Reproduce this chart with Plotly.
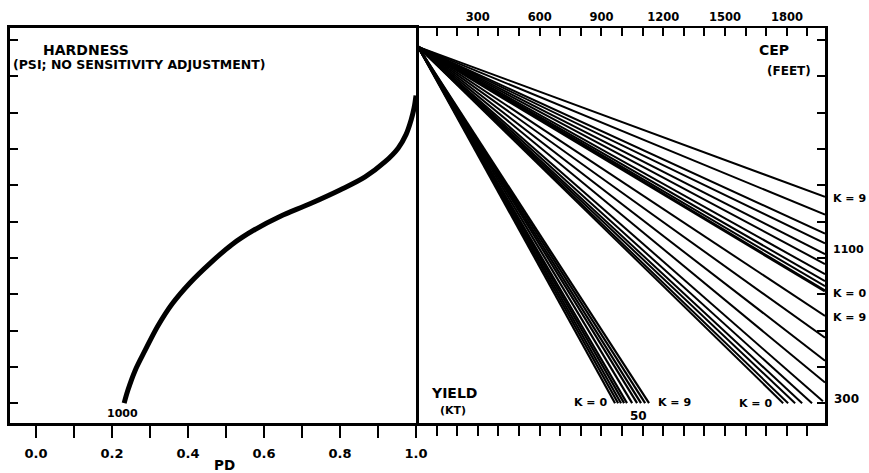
import plotly.graph_objects as go

# ---------------- data ----------------
# Left panel: hardness curve (PD vs hardness level, tick units)
pd_values = [0.232, 0.242, 0.261, 0.287, 0.321, 0.358, 0.405, 0.458, 0.516, 0.576,
             0.642, 0.721, 0.800, 0.866, 0.918, 0.953, 0.974, 0.987, 0.995, 1.000]
hardness_level = [0.00, 0.36, 0.90, 1.45, 2.13, 2.73, 3.31, 3.85, 4.37, 4.78,
                  5.14, 5.49, 5.87, 6.23, 6.64, 7.02, 7.40, 7.79, 8.13, 8.47]

# Right panel: nomogram lines from a common pivot
pivot_cep = 10
pivot_level = 9.81
k_values = [0, 1, 2, 3, 4, 5, 6, 7, 8, 9]

yield50_end_cep = [966, 981, 995, 1010, 1024, 1049, 1073, 1092, 1112, 1131]
yield50_end_level = [0, 0, 0, 0, 0, 0, 0, 0, 0, 0]

cep1100_end_cep = [1985, 1985, 1985, 1985, 1985, 1985, 1985, 1985, 1985, 1985]
cep1100_end_level = [3.09, 3.22, 3.36, 3.55, 3.83, 4.10, 4.40, 4.67, 5.19, 5.68]

cep300_end_cep = [1782, 1806, 1840, 1874, 1922, 1975, 1985, 1985, 1985, 1985]
cep300_end_level = [0, 0, 0, 0, 0, 0.05, 0.57, 1.17, 1.80, 2.40]

pd_ticks = [0.0, 0.2, 0.4, 0.6, 0.8, 1.0]
pd_ticktext = ["0.0", "0.2", "0.4", "0.6", "0.8", "1.0"]
cep_ticks = [300, 600, 900, 1200, 1500, 1800]
cep_ticktext = ["300", "600", "900", "1200", "1500", "1800"]
level_ticks = [0, 1, 2, 3, 4, 5, 6, 7, 8, 9, 10]
cep_minor_ticks = [100, 200, 300, 400, 500, 600, 700, 800, 900, 1000,
                   1100, 1200, 1300, 1400, 1500, 1600, 1700, 1800, 1900]

# ---------------- layout constants ----------------
W, H = 869, 473
L, R, T, B = 10, 825, 25, 423      # plot area in pixels
DIV = 416
split = (DIV - L) / (R - L)
X_RANGE_L = [-0.0684, 1.0]
X_RANGE_R = [0, 1985]
Y_RANGE = [-0.546, 10.328]
FONT = "DejaVu Sans"

fig = go.Figure()

fig.add_trace(go.Scatter(x=pd_values, y=hardness_level, mode="lines",
                         line=dict(color="black", width=5, shape="spline"),
                         xaxis="x", yaxis="y", hoverinfo="skip", showlegend=False))


def add_family(end_cep, end_level, widths):
    for i, k in enumerate(k_values):
        fig.add_trace(go.Scatter(x=[pivot_cep, end_cep[i]], y=[pivot_level, end_level[i]],
                                 mode="lines", line=dict(color="black", width=widths[i]),
                                 xaxis="x2", yaxis="y2", hoverinfo="skip",
                                 showlegend=False, name=f"K={k}"))


add_family(yield50_end_cep, yield50_end_level, [2.2] * 10)
add_family(cep1100_end_cep, cep1100_end_level, [3] + [2] * 9)
add_family(cep300_end_cep, cep300_end_level, [2] * 10)

# dummy trace for the bottom overlay axis of the right panel
fig.add_trace(go.Scatter(x=[None], y=[None], xaxis="x3", yaxis="y2",
                         hoverinfo="skip", showlegend=False))

fig.update_layout(
    width=W, height=H,
    margin=dict(l=L, r=W - R, t=T, b=H - B),
    paper_bgcolor="white", plot_bgcolor="white",
    showlegend=False,
    font=dict(family=FONT, color="black"),
    xaxis=dict(domain=[0, split], range=X_RANGE_L, anchor="y",
               showline=True, linewidth=3, linecolor="black", mirror=True,
               showgrid=False, zeroline=False,
               tickvals=pd_ticks, ticktext=pd_ticktext,
               ticks="outside", ticklen=12, tickwidth=2, tickcolor="black",
               minor=dict(dtick=0.1, tick0=0, ticks="outside", ticklen=12,
                          tickwidth=2, tickcolor="black", showgrid=False),
               ticklabelstandoff=4,
               tickfont=dict(family=FONT, size=13, weight="bold", color="black")),
    yaxis=dict(domain=[0, 1], range=Y_RANGE, anchor="x",
               showline=True, linewidth=2.5, linecolor="black", mirror=True,
               showgrid=False, zeroline=False,
               tickvals=level_ticks, showticklabels=False,
               ticks="inside", ticklen=8, tickwidth=2, tickcolor="black"),
    xaxis2=dict(domain=[split, 1], range=X_RANGE_R, anchor="y2", side="top",
                showline=True, linewidth=2, linecolor="black",
                showgrid=False, zeroline=False,
                tickvals=cep_ticks, ticktext=cep_ticktext,
                ticks="inside", ticklen=8, tickwidth=2, tickcolor="black",
                minor=dict(tickvals=cep_minor_ticks, ticks="inside", ticklen=8,
                           tickwidth=2, tickcolor="black", showgrid=False),
                tickfont=dict(family=FONT, size=11.5, weight="bold", color="black")),
    xaxis3=dict(domain=[split, 1], range=X_RANGE_R, anchor="y2", side="bottom",
                overlaying="x2",
                showline=True, linewidth=3, linecolor="black",
                showgrid=False, zeroline=False,
                tickvals=cep_minor_ticks, showticklabels=False,
                ticks="outside", ticklen=10, tickwidth=2, tickcolor="black"),
    yaxis2=dict(domain=[0, 1], range=Y_RANGE, anchor="x2", side="right",
                showline=True, linewidth=2.5, linecolor="black",
                showgrid=False, zeroline=False,
                tickvals=level_ticks, showticklabels=False,
                ticks="inside", ticklen=8, tickwidth=2, tickcolor="black"),
)


def px2paper(px, py):
    return (px - L) / (R - L), (B - py) / (B - T)


def label(text, px, py, size, xanchor="left"):
    x, y = px2paper(px, py)
    fig.add_annotation(x=x, y=y, xref="paper", yref="paper", text=text,
                       showarrow=False, xanchor=xanchor, yanchor="middle",
                       font=dict(family=FONT, size=size, weight="bold", color="black"))


label("HARDNESS", 41, 47, 14)
label("(PSI; NO SENSITIVITY ADJUSTMENT)", 11, 62, 12.5)
label("CEP", 791, 47, 14, "right")
label("(FEET)", 813, 68, 12, "right")
label("YIELD", 429, 393, 14)
label("(KT)", 453, 410, 11, "center")
label("K = 0", 609, 402, 11, "right")
label("K = 9", 656, 402, 11)
label("50", 638, 416, 12, "center")
label("K = 0", 774, 403, 11, "right")
label("300", 832, 399, 12)
label("K = 9", 831, 197, 11)
label("1100", 831, 248, 11)
label("K = 0", 831, 293, 11)
label("K = 9", 831, 317, 11)
label("1000", 122, 413, 11, "center")
label("PD", 224, 465, 13.5, "center")

fig.write_html(
    "out.html",
    config={"displayModeBar": False},
    post_script="document.body.style.margin='0';document.body.style.overflow='hidden';",
)
